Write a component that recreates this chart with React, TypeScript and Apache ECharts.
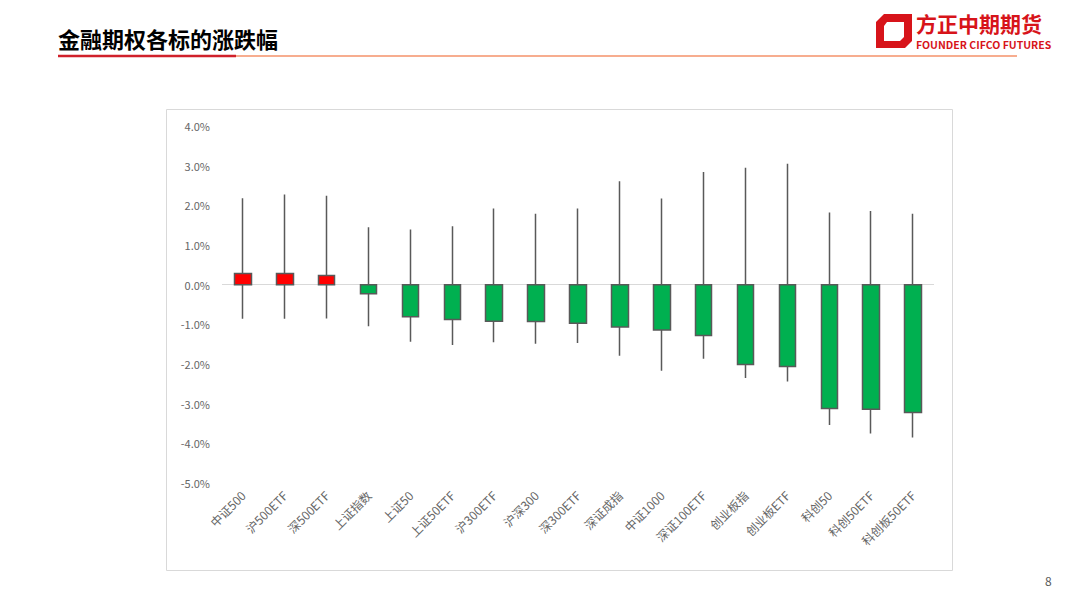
import React, { useEffect, useRef } from "react";
import * as echarts from "echarts";

const categories = ["中证500", "沪500ETF", "深500ETF", "上证指数", "上证50", "上证50ETF", "沪300ETF", "沪深300", "深300ETF", "深证成指", "中证1000", "深证100ETF", "创业板指", "创业板ETF", "科创50", "科创50ETF", "科创板50ETF"];
// percent values
const openValues = [0, 0, 0, 0, 0, 0, 0, 0, 0, 0, 0, 0, 0, 0, 0, 0, 0];
const closeValues = [0.28, 0.28, 0.23, -0.23, -0.81, -0.88, -0.92, -0.93, -0.97, -1.07, -1.14, -1.28, -2.01, -2.06, -3.12, -3.14, -3.22];
const lowValues = [-0.86, -0.86, -0.85, -1.05, -1.44, -1.52, -1.45, -1.49, -1.47, -1.79, -2.17, -1.87, -2.35, -2.44, -3.54, -3.75, -3.85];
const highValues = [2.18, 2.27, 2.24, 1.45, 1.39, 1.47, 1.92, 1.79, 1.92, 2.61, 2.17, 2.84, 2.95, 3.05, 1.82, 1.86, 1.79];
const yTicks = { min: -5, max: 4, interval: 1 };

const FONT = "'Noto Sans CJK SC', 'Noto Sans', sans-serif";

export default function App() {
  const ref = useRef<HTMLDivElement>(null);
  useEffect(() => {
    if (!ref.current) return;
    const chart = echarts.init(ref.current, null, { renderer: "svg" });
    const data = categories.map((_, i) => [openValues[i], closeValues[i], lowValues[i], highValues[i]]);
    chart.setOption({
      animation: false,
      backgroundColor: "#ffffff",
      textStyle: { fontFamily: FONT },
      grid: { left: 222, right: 146, top: 126, bottom: 125, containLabel: false },
      xAxis: {
        type: "category",
        data: categories,
        boundaryGap: true,
        axisLine: { show: false },
        axisTick: { show: false },
        splitLine: { show: false },
        axisLabel: { rotate: 45, interval: 0, margin: 10, color: "#666666", fontSize: 12, fontFamily: FONT },
      },
      yAxis: {
        type: "value",
        min: yTicks.min,
        max: yTicks.max,
        interval: yTicks.interval,
        axisLine: { show: false },
        axisTick: { show: false },
        splitLine: { show: false },
        axisLabel: {
          margin: 12,
          color: "#666666",
          fontSize: 11,
          fontFamily: FONT,
          formatter: (v: number) => v.toFixed(1) + "%",
        },
      },
      series: [
        {
          type: "candlestick",
          data,
          barWidth: 17,
          itemStyle: {
            color: "#FF0000",
            color0: "#00B050",
            borderColor: "#595959",
            borderColor0: "#595959",
            borderWidth: 1.5,
          },
          markLine: {
            silent: true,
            symbol: ["none", "none"],
            label: { show: false },
            lineStyle: { color: "#d9d9d9", type: "solid", width: 1 },
            data: [{ yAxis: 0 }],
            z: 0,
          },
        },
      ],
      graphic: [
        // chart border
        { type: "rect", shape: { x: 166.5, y: 109.5, width: 786, height: 461 }, style: { fill: "none", stroke: "#d9d9d9", lineWidth: 1 }, z: -1 },
        // title
        { type: "text", x: 58, y: 38, style: { text: "金融期权各标的涨跌幅", font: `bold 22px ${FONT}`, fill: "#000000", textVerticalAlign: "middle" } },
        { type: "line", shape: { x1: 58, y1: 56, x2: 236, y2: 56 }, style: { stroke: "#D0202A", lineWidth: 2.5 } },
        { type: "line", shape: { x1: 236, y1: 56, x2: 1017, y2: 56 }, style: { stroke: "#F4926A", lineWidth: 1.5 } },
        // logo
        { type: "polygon", shape: { points: [[884, 14], [912, 14], [912, 41], [905, 48], [876, 48], [876, 22]] }, style: { fill: "#D7141A" } },
        { type: "polygon", shape: { points: [[887, 22], [904, 22], [904, 37], [900, 41], [884, 41], [884, 26]] }, style: { fill: "#ffffff" } },
        { type: "text", x: 916, y: 23, style: { text: "方正中期期货", font: `bold 21px ${FONT}`, fill: "#D7141A", textVerticalAlign: "middle" } },
        { type: "text", x: 916, y: 44, style: { text: "FOUNDER CIFCO FUTURES", font: `bold 10.5px ${FONT}`, fill: "#D7141A", textVerticalAlign: "middle" } },
        // page number
        { type: "text", x: 1045, y: 580, style: { text: "8", font: `12px ${FONT}`, fill: "#595959", textVerticalAlign: "middle" } },
      ],
    });
    return () => chart.dispose();
  }, []);
  return <div ref={ref} style={{ position: "fixed", left: 0, top: 0, width: 1080, height: 608 }} />;
}
